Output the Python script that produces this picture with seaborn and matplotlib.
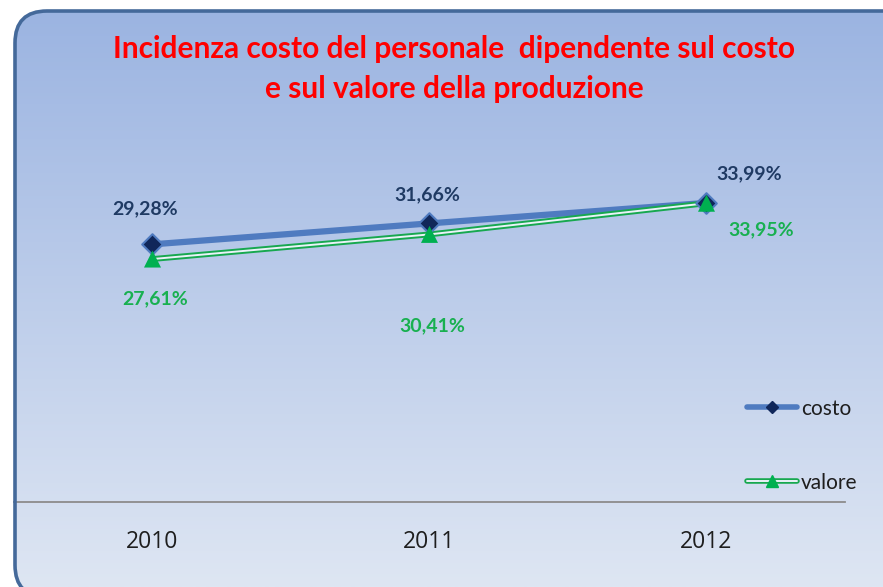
import numpy as np
import pandas as pd
import matplotlib
matplotlib.use("Agg")
import matplotlib.pyplot as plt
import seaborn as sns
from matplotlib.patches import FancyBboxPatch
from matplotlib.lines import Line2D
from matplotlib.legend_handler import HandlerTuple
from matplotlib.transforms import Affine2D

# Data
anni = ["2010", "2011", "2012"]
costo = [29.28, 31.66, 33.99]
valore = [27.61, 30.41, 33.95]
serie = ["costo", "valore"]
titolo = "Incidenza costo del personale  dipendente sul costo\ne sul valore della produzione"

def fmt(v):
    return f"{v:.2f}".replace(".", ",") + "%"

sns.set_theme(style="white")
plt.rcParams["font.family"] = ["Lato", "DejaVu Sans"]

W, H = 883, 587
fig = plt.figure(figsize=(W / 100, H / 100), dpi=100)
fig.patch.set_facecolor("white")

# Pixel-based figure transform (origin bottom-left)
px = Affine2D().scale(1 / W, 1 / H) + fig.transFigure

# Rounded panel border, running off the right and bottom edges (clipped to the figure)
panel = FancyBboxPatch((15, H - 597), 900, 586,
                       boxstyle="round,pad=0,rounding_size=32",
                       facecolor="none", edgecolor="#44699A", linewidth=2.6,
                       transform=px, zorder=3)
panel.set_clip_on(True)
panel.set_clip_box(fig.bbox)
panel.set_in_layout(False)
fig.add_artist(panel)

# Vertical gradient fill clipped to the panel
bg = fig.add_axes([0, 0, 1, 1], zorder=-1)
bg.axis("off")
top_c = np.array([0x9A, 0xB3, 0xE1]) / 255
bot_c = np.array([0xDE, 0xE6, 0xF3]) / 255
t = np.linspace(0, 1, 256)[:, None]
grad = (top_c[None, :] * (1 - t) + bot_c[None, :] * t)[:, None, :]
img = bg.imshow(grad, extent=[0, 1, 0, 1], transform=bg.transAxes,
                aspect="auto", origin="upper")
img.set_clip_path(panel)

# Plot area
ax = fig.add_axes([14 / W, (H - 502) / H, (845 - 14) / W, (502 - 150) / H])
ax.patch.set_alpha(0)
df = pd.DataFrame({"anno": list(range(len(anni))) * 2,
                   "valore_pct": costo + valore,
                   "serie": ["costo"] * 3 + ["valore"] * 3})

d_c = df[df.serie == "costo"]
d_v = df[df.serie == "valore"]
sns.lineplot(data=d_c, x="anno", y="valore_pct", ax=ax, color="#4F7BC0",
             linewidth=4.5, zorder=4, legend=False)
sns.lineplot(data=d_v, x="anno", y="valore_pct", ax=ax, color="#17A84F",
             linewidth=4.2, zorder=5, legend=False)
sns.lineplot(data=d_v, x="anno", y="valore_pct", ax=ax, color="#EAF2F8",
             linewidth=1.4, zorder=6, legend=False)
ax.scatter(d_c.anno, d_c.valore_pct, marker="D", s=110, color="#10275A",
           edgecolors="#4F7BC0", linewidths=1.5, zorder=7)
ax.scatter(d_v.anno, d_v.valore_pct, marker="^", s=150, color="#00B050",
           edgecolors="none", zorder=8)

ax.set_xlim(-0.5, 2.5)
ax.set_ylim(0, 40)
ax.set_xticks(range(len(anni)))
ax.set_xticklabels(anni, fontsize=16.5, color="#1E1E1E",
                   family=["Open Sans", "DejaVu Sans"])
ax.tick_params(axis="x", length=0, pad=20)
ax.set_yticks([])
ax.set_xlabel("")
ax.set_ylabel("")
for s in ["top", "left", "right"]:
    ax.spines[s].set_visible(False)
ax.spines["bottom"].set_color("#8C8C8C")
ax.spines["bottom"].set_linewidth(1.3)

# Data labels
off_c = [(-7, 36), (-2, 29), (43, 29)]
off_v = [(3, -40), (3, -91), (55, -27)]
for i, v in enumerate(costo):
    ax.annotate(fmt(v), (i, v), xytext=off_c[i], textcoords="offset pixels",
                ha="center", va="center", fontsize=14, fontweight="bold",
                color="#1F3A63")
for i, v in enumerate(valore):
    ax.annotate(fmt(v), (i, v), xytext=off_v[i], textcoords="offset pixels",
                ha="center", va="center", fontsize=14, fontweight="bold",
                color="#18B050")

# Legend
h_c = (Line2D([], [], color="#4F7BC0", lw=4.0),
       Line2D([], [], marker="D", ms=6, color="#10275A", lw=0))
h_v = (Line2D([], [], color="#17A84F", lw=4.0),
       Line2D([], [], color="#EAF2F8", lw=1.4),
       Line2D([], [], marker="^", ms=8, color="#00B050", lw=0))
leg = ax.legend([h_c, h_v], serie, handler_map={tuple: HandlerTuple(ndivide=1, pad=0)},
                loc="center left", bbox_to_anchor=(0.882, 0.16),
                frameon=False, fontsize=15, handlelength=2.4, handletextpad=0.2,
                labelspacing=2.6, borderaxespad=0, borderpad=0)
for tx in leg.get_texts():
    tx.set_color("#1E1E1E")

# Title
fig.text(454 / W, 1 - 69 / H, titolo, ha="center", va="center",
         fontsize=21.5, fontweight="bold", color="#FF0000", linespacing=1.5)

fig.savefig("out.png", dpi=100)
